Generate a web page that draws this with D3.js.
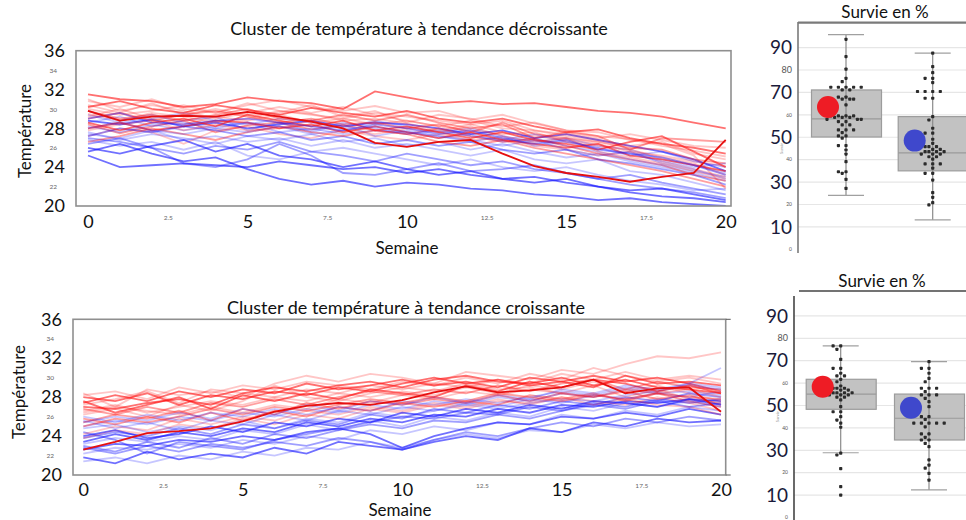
<!DOCTYPE html>
<html><head><meta charset="utf-8">
<script src="https://cdn.jsdelivr.net/npm/d3@7"></script>
<style>
body{margin:0;background:#fff}
svg{display:block}
text{font-family:Lato,"Open Sans",sans-serif}
</style>
</head><body>
<svg width="966" height="520"></svg>
<script>
// weeks on the x axis
var weeks = [0,1,2,3,4,5,6,7,8,9,10,11,12,13,14,15,16,17,18,19,20];

// cluster with decreasing trend: red and blue profiles
var topRed = [
  [31.5,31.0,30.8,30.2,30.5,31.2,30.8,30.6,30.0,31.8,31.2,30.6,30.8,30.5,30.6,30.2,29.8,29.6,29.2,28.6,28.0],
  [30.8,30.2,31.0,30.0,29.6,30.4,30.9,30.2,29.8,30.3,29.6,29.8,28.9,29.4,28.5,27.8,27.2,26.9,26.2,25.7,25.1],
  [29.5,28.8,29.6,29.2,28.6,29.0,29.8,29.5,28.8,29.0,28.5,27.8,28.4,27.6,27.2,26.8,26.4,25.6,25.2,24.6,24.1],
  [28.4,27.5,28.2,28.8,27.6,28.3,28.6,27.9,28.3,27.8,27.4,28.0,27.2,26.6,26.9,26.2,25.4,24.8,24.2,23.2,22.6],
  [30.2,30.8,30.0,29.6,30.4,29.9,29.4,30.1,29.6,29.2,29.8,29.0,28.6,29.0,28.2,27.6,27.9,27.0,26.4,26.0,25.4],
  [27.2,28.0,27.6,26.4,27.8,28.2,27.4,27.0,27.8,27.2,26.8,27.4,26.8,27.0,26.2,25.8,25.2,25.6,24.6,23.8,23.0],
  [29.0,29.6,28.8,29.4,29.8,29.2,28.6,29.0,28.4,28.6,28.0,28.4,27.6,28.6,27.4,27.0,26.6,26.0,25.8,24.8,24.4],
  [31.0,29.8,30.4,29.8,29.0,29.6,30.2,29.6,30.2,29.4,28.8,28.2,28.8,28.0,27.8,27.2,26.8,26.2,26.6,25.4,24.8],
  [28.0,28.6,27.8,28.2,28.8,28.6,28.0,28.4,27.6,28.2,27.6,27.0,27.6,26.8,26.4,26.0,26.4,25.2,24.8,24.2,23.6],
  [26.6,27.2,28.0,27.4,26.8,27.6,28.2,27.6,27.2,27.8,27.4,26.6,26.2,26.8,26.0,25.4,24.8,24.2,23.6,22.8,22.0],
  [30.0,29.4,29.8,30.4,29.6,30.6,29.8,29.4,29.0,29.6,29.2,28.8,28.4,28.8,27.8,27.4,27.0,27.4,26.8,26.2,26.0],
  [29.2,30.0,29.0,28.4,29.2,28.8,29.4,28.6,29.0,28.4,28.8,28.2,27.8,27.4,27.6,26.6,26.2,25.8,25.0,24.4,23.2],
  [28.6,27.8,28.6,29.0,28.2,29.4,28.8,28.2,28.8,27.8,28.2,27.6,27.0,27.6,26.8,26.4,25.8,26.6,27.2,25.6,24.0],
  [30.4,29.6,30.6,29.4,30.0,29.4,29.6,30.4,29.2,29.8,28.6,29.4,29.0,28.2,28.6,27.8,27.6,26.8,26.4,25.2,21.8],
  [27.8,28.4,28.8,27.8,28.4,27.8,28.0,28.8,28.0,27.4,28.0,27.6,28.2,27.2,26.6,27.0,25.6,25.0,24.4,23.6,22.8],
  [29.8,29.0,29.4,28.8,29.4,30.0,29.0,28.8,29.4,28.8,29.4,28.6,28.0,28.4,27.0,27.6,27.2,25.8,27.0,26.8,26.6]
];
var topBlue = [
  [28.8,28.4,28.9,28.2,28.6,28.0,28.4,28.8,28.2,28.6,28.4,28.0,27.4,27.8,27.0,27.4,26.8,26.2,25.6,24.8,23.6],
  [27.6,26.8,27.4,27.0,26.4,27.2,26.8,27.4,26.6,27.0,26.2,26.6,25.8,26.4,25.6,25.0,25.4,24.6,24.0,23.4,22.6],
  [29.4,28.6,29.0,29.6,28.8,28.4,29.0,28.6,28.0,28.8,28.2,27.6,28.0,27.2,26.6,27.0,26.2,25.8,24.8,24.2,23.4],
  [26.4,27.0,26.0,25.4,26.2,25.8,26.6,25.6,25.2,24.6,25.4,24.8,24.2,24.6,23.8,23.4,22.8,23.2,22.4,21.8,21.2],
  [25.2,24.0,24.2,24.4,24.2,24.0,24.6,24.2,23.8,24.0,23.4,23.8,23.2,22.8,23.0,22.4,22.0,21.6,21.8,21.2,20.6],
  [28.2,27.6,28.4,27.8,28.2,28.6,27.6,28.0,27.4,27.8,27.6,27.0,27.4,26.6,27.0,26.2,25.6,24.8,24.2,23.6,23.0],
  [27.0,26.6,26.0,24.4,24.0,24.8,26.4,25.2,23.4,23.2,23.8,24.4,23.6,23.8,24.2,23.4,22.8,22.2,21.8,21.4,20.8],
  [28.6,29.2,28.2,28.8,29.2,27.8,28.6,27.6,28.4,27.2,27.8,27.2,26.6,27.2,26.2,26.6,26.0,25.2,25.6,24.6,24.0],
  [26.0,25.4,26.2,26.8,25.6,26.4,25.2,24.8,24.0,24.6,23.8,23.2,23.6,22.8,22.4,22.8,22.0,21.4,21.0,20.8,20.4],
  [27.2,28.0,27.6,28.2,27.8,27.2,27.6,26.8,27.2,26.4,26.8,26.2,26.6,25.8,25.4,25.8,24.8,24.4,23.8,23.2,22.2],
  [29.8,28.8,29.4,28.6,28.0,28.6,28.2,27.8,28.6,28.0,27.4,27.8,27.2,26.8,27.4,26.6,26.0,25.4,24.6,24.0,24.4],
  [26.8,26.2,26.6,25.8,26.6,25.2,24.8,25.6,26.0,25.4,24.8,24.2,24.8,24.0,23.6,24.0,23.2,22.6,22.2,21.6,21.8],
  [25.6,26.4,25.4,24.6,25.0,23.8,22.8,22.2,22.6,22.0,22.4,22.2,21.8,21.6,21.2,21.0,20.6,20.8,20.4,20.2,20.0],
  [28.0,28.6,27.8,27.4,28.0,27.6,28.2,27.4,27.8,28.2,27.6,27.2,26.8,26.2,26.8,25.8,25.2,25.6,24.4,23.8,22.8],
  [27.4,27.0,27.8,26.8,27.2,26.6,27.0,26.2,26.8,26.0,26.4,25.8,25.2,25.8,24.8,24.4,24.8,23.6,23.2,22.4,21.6],
  [29.0,29.6,28.6,28.4,28.8,29.0,28.6,28.2,27.8,28.4,28.0,27.4,27.8,27.0,26.4,26.8,25.8,25.4,25.0,24.2,23.2]
];
var topHighlight = [29.8,28.8,29.2,29.3,29.2,29.7,29.2,28.7,28.0,26.5,26.1,26.6,26.8,25.4,24.1,23.4,23.0,22.5,23.0,23.4,26.8];

// cluster with increasing trend
var botRed = [
  [27.0,26.8,27.4,27.8,27.2,28.4,29.0,28.6,29.2,29.6,29.0,29.8,30.2,29.6,29.4,30.0,29.2,29.8,29.0,28.8,28.4],
  [26.6,27.2,26.4,27.0,27.6,27.2,28.0,27.6,28.4,28.0,28.6,28.2,29.0,28.4,29.2,28.8,29.6,28.6,29.2,28.4,27.6],
  [28.4,27.0,28.8,28.2,28.6,28.0,29.4,30.2,29.6,30.4,30.0,29.4,30.6,30.2,29.8,30.8,30.4,31.4,32.2,32.0,32.6],
  [25.4,26.2,25.8,26.6,25.6,26.8,26.2,27.4,26.8,27.6,27.2,27.8,27.4,28.2,27.6,28.4,28.0,28.6,27.8,28.2,27.2],
  [27.4,28.2,27.6,28.6,28.0,28.8,28.4,29.4,28.8,29.2,29.8,29.2,29.6,29.0,30.0,29.6,29.0,30.2,29.4,29.6,29.2],
  [24.2,25.0,24.6,25.8,25.2,26.0,25.6,26.6,26.2,27.0,26.6,27.4,27.0,27.8,27.2,28.0,27.6,27.2,28.0,27.4,26.6],
  [26.8,26.2,27.0,26.4,27.4,27.0,27.8,27.2,28.0,28.6,28.2,28.8,28.4,29.2,28.6,29.4,29.8,28.8,29.6,29.0,28.8],
  [26.2,26.8,26.0,27.2,26.6,27.6,29.2,28.0,27.6,28.4,29.0,28.6,29.4,28.8,29.0,28.4,29.2,28.0,28.8,27.8,27.4],
  [28.0,27.6,28.4,27.2,28.2,27.8,28.6,28.2,29.0,28.6,29.4,30.0,29.4,29.8,29.2,29.6,30.2,29.6,30.0,29.4,28.6],
  [25.8,25.2,26.0,25.4,26.4,25.6,26.6,26.0,27.0,26.6,27.4,27.0,27.6,27.2,28.2,27.8,28.4,27.6,28.4,27.6,27.0],
  [27.2,27.8,28.6,27.4,28.8,28.4,28.0,28.8,28.4,29.2,28.8,29.4,29.0,29.8,29.4,30.4,29.8,30.6,29.8,30.2,29.8],
  [23.8,24.6,24.2,25.2,24.8,25.8,25.2,26.2,25.8,26.8,26.4,27.2,26.8,27.6,27.4,28.0,27.2,27.8,27.2,27.0,26.2],
  [27.6,26.4,27.2,28.0,26.8,28.2,27.6,28.4,27.8,28.8,28.4,28.0,29.2,28.6,29.6,29.0,29.8,29.4,28.6,29.2,28.4],
  [26.4,27.0,26.6,26.2,27.0,26.4,27.2,26.8,27.8,27.4,28.2,27.8,28.6,28.2,28.8,28.4,28.0,28.8,28.4,28.8,28.0],
  [28.2,28.6,27.8,29.0,28.4,29.2,28.8,29.6,29.2,28.8,29.6,29.2,30.0,29.4,30.4,29.8,31.0,30.2,29.6,30.0,29.4],
  [25.0,25.8,25.4,26.0,26.8,26.2,27.0,26.6,27.2,27.8,27.4,28.0,27.6,28.4,28.0,27.6,28.2,27.8,28.4,28.0,27.8]
];
var botBlue = [
  [23.4,24.2,23.6,24.4,24.0,24.8,24.4,25.4,25.0,25.8,25.4,26.2,26.0,26.8,26.4,27.2,27.0,27.6,27.4,27.8,27.6],
  [25.6,24.8,25.4,24.6,25.6,25.2,26.2,25.6,26.6,26.2,27.0,26.6,27.4,27.0,27.8,27.4,28.2,27.8,28.4,28.0,28.6],
  [21.4,21.8,21.2,22.0,21.6,22.4,22.0,22.8,22.6,23.4,22.8,23.6,24.2,23.8,24.6,24.4,25.2,24.8,25.4,25.0,25.2],
  [24.4,23.6,22.2,23.4,23.0,22.6,23.6,24.2,24.8,25.4,26.0,25.8,26.4,26.2,27.0,26.6,27.4,27.0,27.8,27.4,27.8],
  [22.6,23.2,23.0,23.6,23.4,24.0,23.6,24.4,24.8,24.2,22.8,24.0,24.8,25.4,25.2,26.0,25.8,26.4,26.0,26.8,26.2],
  [25.0,25.6,25.2,26.0,25.6,26.4,26.0,26.8,26.4,27.2,26.8,27.6,27.2,28.0,27.6,28.4,28.0,28.8,28.4,28.6,28.2],
  [23.0,22.4,23.4,22.8,23.8,23.2,24.2,23.8,24.6,25.2,24.8,25.6,25.4,26.2,25.8,26.6,27.2,26.8,27.6,27.0,27.4],
  [24.8,25.2,24.4,25.0,24.6,25.6,24.8,25.8,25.4,26.4,26.0,26.6,27.2,26.8,27.4,27.8,27.6,28.2,28.6,29.4,31.0],
  [21.8,21.2,22.4,21.6,22.2,21.8,22.8,22.2,23.4,23.0,22.6,23.4,24.0,23.6,24.8,24.4,25.4,25.0,25.8,25.4,25.6],
  [23.8,24.4,24.0,24.8,24.2,25.2,24.8,25.6,25.2,26.2,25.8,26.8,26.4,27.2,26.8,27.6,27.2,28.0,27.6,28.4,28.0],
  [26.0,25.4,26.2,25.6,26.4,26.0,26.8,26.2,27.0,26.6,27.6,27.2,27.8,27.4,28.0,28.6,28.2,29.0,28.6,29.2,28.8],
  [22.2,22.8,22.6,23.2,22.8,23.6,23.2,24.0,23.6,24.6,24.2,25.0,24.6,25.4,25.2,26.2,25.8,26.6,26.2,27.0,26.6],
  [24.0,24.6,23.8,24.2,25.0,24.4,25.4,25.0,25.8,25.4,26.4,26.0,26.8,26.4,27.2,26.8,27.6,27.4,27.0,27.8,27.2],
  [23.2,23.8,23.4,24.0,23.6,24.6,24.2,25.2,24.6,25.6,25.0,26.0,25.6,26.4,26.0,27.0,26.6,27.4,27.0,27.6,27.0],
  [25.4,26.0,25.6,26.4,25.8,26.8,26.2,27.2,26.6,27.6,27.2,28.0,27.4,28.2,27.8,28.8,28.4,29.2,28.8,29.4,29.0],
  [22.8,22.2,23.0,22.4,23.2,22.8,23.4,23.0,23.8,23.4,22.6,23.6,24.4,24.0,24.8,25.4,25.0,25.8,25.4,26.0,25.6]
];
var botHighlight = [22.6,23.4,24.3,24.5,24.8,25.5,26.5,27.1,27.4,27.2,27.7,28.5,29.1,28.5,28.7,29.0,29.8,28.4,28.9,29.0,26.5];

var tempTicks = [20,22,24,26,28,30,32,34,36];
var weekTicks = [0,2.5,5,7.5,10,12.5,15,17.5,20];

// survival (%) : box statistics [red group, blue group]
var groups = ["rouge","bleu"];
var survTopQ1 = [50.1, 35.0], survTopMed = [58.2, 43.0], survTopQ3 = [71.1, 59.2];
var survTopLo = [24.1, 13.1], survTopHi = [95.8, 87.5], survTopMean = [63.5, 48.5];
var survBotQ1 = [48.3, 34.6], survBotMed = [55.1, 44.3], survBotQ3 = [61.7, 55.1];
var survBotLo = [28.9, 12.3], survBotHi = [76.6, 69.6], survBotMean = [58.4, 49.0];

var survTopRed = [93.7,86.0,80.4,76.3,74.8,72.3,72.3,72.3,72.3,72.3,71.1,71.1,67.9,67.9,67.0,67.0,67.0,64.4,
  59.5,59.5,59.5,59.5,58.9,58.9,58.9,58.0,58.0,58.0,57.0,57.0,55.5,55.5,53.3,53.3,53.3,52.1,50.6,50.6,49.6,
  46.3,46.3,44.3,42.5,39.1,34.6,34.6,33.9,31.2,27.2];
var survTopBlue = [87.5,81.5,78.8,76.3,76.3,74.4,70.4,70.4,70.4,70.4,67.4,67.4,59.2,57.7,54.0,51.8,51.8,49.1,
  47.3,45.8,45.8,45.8,44.6,44.6,43.6,43.6,43.6,43.6,42.5,42.5,42.5,41.3,41.3,40.2,38.1,38.1,38.1,36.2,
  33.9,33.9,30.9,25.3,23.2,20.8,19.8];
var survBotRed = [76.6,76.6,75.1,70.6,66.6,66.6,64.4,63.2,63.2,61.7,60.6,58.7,57.7,57.7,57.7,56.9,56.9,
  55.7,55.7,55.7,55.7,54.7,54.7,54.7,54.7,53.7,53.7,52.5,49.5,47.2,47.2,45.0,43.5,42.1,40.3,28.7,27.9,
  21.8,13.8,10.0];
var survBotBlue = [69.6,66.6,66.6,64.4,62.1,60.6,57.7,57.7,57.7,56.2,54.7,54.7,54.7,53.2,51.7,49.5,45.0,
  45.0,43.8,42.1,42.1,42.1,42.1,42.1,40.5,37.3,37.3,35.8,34.6,34.6,33.1,31.6,25.7,23.4,22.0,19.7,16.7];
var survBigTicks = [10,30,50,70,90];
var survSmallTicks = [0,20,40,60,80];
var survGrid = [10,20,30,40,50,60,70,80,90];

var svg = d3.select("svg");

function linePanel(o) {
  var x = d3.scaleLinear().domain([0,20]).range([o.x0, o.x1]);
  var y = d3.scaleLinear().domain([20,36]).range([o.yb, o.yt]);
  var g = svg.append("g");
  var cid = "clip" + o.id;
  svg.append("clipPath").attr("id", cid).append("rect")
    .attr("x", o.fl).attr("y", o.yt).attr("width", o.fr - o.fl).attr("height", o.yb - o.yt);

  var line = d3.line().x(function(d, i) { return x(weeks[i]); }).y(function(d) { return y(d); });
  var lg = g.append("g").attr("clip-path", "url(#" + cid + ")");
  // interleave red and blue profiles
  for (var i = 0; i < o.red.length; i++) {
    [[o.blue[i], "#1010ff"], [o.red[i], "#ff1010"]].forEach(function(p) {
      lg.append("path").attr("d", line(p[0])).attr("fill", "none")
        .attr("stroke", p[1]).attr("stroke-width", 1.8)
        .attr("stroke-opacity", i % 4 === 0 ? 0.6 : (i % 3 === 0 ? 0.4 : 0.24));
    });
  }
  lg.append("path").attr("d", line(o.hi)).attr("fill", "none")
    .attr("stroke", "#e61010").attr("stroke-width", 1.8);

  // frame
  g.append("rect").attr("x", o.fl).attr("y", o.yt).attr("width", o.fr - o.fl).attr("height", o.yb - o.yt)
    .attr("fill", "none").attr("stroke", "#8f8f8f").attr("stroke-width", 1.6);

  // y axis
  var ya = g.append("g").attr("transform", "translate(" + o.ylab + ",0)")
    .call(d3.axisLeft(y).tickValues(tempTicks).tickSize(0).tickPadding(0));
  ya.select(".domain").remove();
  ya.selectAll("text")
    .style("font-family", "Lato, sans-serif")
    .style("font-size", function(d) { return d % 4 === 0 ? "18px" : "6.5px"; })
    .attr("fill", function(d) { return d % 4 === 0 ? "#111" : "#666"; })
    .attr("x", function(d) { return d % 4 === 0 ? 0 : -8; });

  // x axis
  var xa = g.append("g").attr("transform", "translate(0," + o.xlab + ")")
    .call(d3.axisBottom(x).tickValues(weekTicks).tickSize(0).tickPadding(0)
      .tickFormat(function(d) { return String(d); }));
  xa.select(".domain").remove();
  xa.selectAll("text")
    .style("font-family", "Lato, sans-serif")
    .style("font-size", function(d) { return d % 5 === 0 ? "18px" : "6.5px"; })
    .attr("fill", function(d) { return d % 5 === 0 ? "#111" : "#666"; })
    .attr("dy", function(d) { return d % 5 === 0 ? "0.32em" : "-0.3em"; })
    .attr("y", 0);

  g.append("text").attr("x", o.tx).attr("y", o.ty).attr("text-anchor", "middle")
    .attr("dy", "0.35em").style("font-size", "18px").attr("fill", "#111").text(o.title);
  g.append("text").attr("x", o.sx).attr("y", o.sy).attr("text-anchor", "middle")
    .attr("dy", "0.35em").style("font-size", "17px").attr("fill", "#111").text("Semaine");
  g.append("text").attr("transform", "translate(" + o.lx + "," + o.ly + ") rotate(-90)")
    .attr("text-anchor", "middle").attr("dy", "0.35em").style("font-size", "17px")
    .attr("fill", "#111").text("Température");
  if (o.rightTicks) {
    [o.yt, o.yb].forEach(function(yy) {
      g.append("line").attr("x1", o.fr).attr("x2", o.fr + 5).attr("y1", yy).attr("y2", yy)
        .attr("stroke", "#555").attr("stroke-width", 1);
    });
  }
}

linePanel({id: "a", x0: 88, x1: 725.7, yt: 50.7, yb: 206, fl: 76, fr: 731,
  red: topRed, blue: topBlue, hi: topHighlight, ylab: 65, xlab: 222,
  title: "Cluster de température à tendance décroissante", tx: 419, ty: 29,
  sx: 407, sy: 248, lx: 25, ly: 131});
linePanel({id: "b", x0: 83.3, x1: 721, yt: 319.3, yb: 475, fl: 73, fr: 725.7,
  red: botRed, blue: botBlue, hi: botHighlight, ylab: 62, xlab: 490, rightTicks: true,
  title: "Cluster de température à tendance croissante", tx: 406, ty: 307.7,
  sx: 400, sy: 510, lx: 19, ly: 392});

function swarm(vals, y, cx) {
  var placed = [], d = 3.8;
  vals.slice().sort(function(a, b) { return b - a; }).forEach(function(v) {
    var py = y(v);
    for (var k = 0; k < 30; k++) {
      var off = (k % 2 ? -1 : 1) * Math.ceil(k / 2) * d;
      var ok = placed.every(function(p) { return Math.hypot(p[0] - (cx + off), p[1] - py) >= d; });
      if (ok) { placed.push([cx + off, py]); break; }
    }
  });
  return placed;
}

function boxPanel(o) {
  var y = d3.scaleLinear().domain([0, 80]).range([o.y0, o.y80]);
  var cx = d3.scalePoint().domain(groups).range(o.centers);
  var g = svg.append("g");

  g.selectAll(".grid").data(survGrid).enter().append("line")
    .attr("x1", o.axisX).attr("x2", 966).attr("y1", function(d) { return y(d); })
    .attr("y2", function(d) { return y(d); }).attr("stroke", "#e6e6e6").attr("stroke-width", 1.2);

  var bw = 70, cw = 36;
  groups.forEach(function(gr, i) {
    var c = cx(gr);
    g.append("rect").attr("x", c - bw / 2 + 0.5).attr("y", y(o.q3[i]))
      .attr("width", bw).attr("height", y(o.q1[i]) - y(o.q3[i]))
      .attr("fill", "#c2c2c2").attr("stroke", "#9c9c9c").attr("stroke-width", 1.2);
    g.append("line").attr("x1", c).attr("x2", c).attr("y1", y(o.hi[i])).attr("y2", y(o.lo[i]))
      .attr("stroke", "#8a8a8a").attr("stroke-width", 1.2);
    [o.hi[i], o.lo[i]].forEach(function(v) {
      g.append("line").attr("x1", c - cw / 2).attr("x2", c + cw / 2).attr("y1", y(v)).attr("y2", y(v))
        .attr("stroke", "#a0a0a0").attr("stroke-width", 1.2);
    });
    g.append("line").attr("x1", c - bw / 2 + 0.5).attr("x2", c + bw / 2 + 0.5)
      .attr("y1", y(o.med[i])).attr("y2", y(o.med[i])).attr("stroke", "#9a9a9a").attr("stroke-width", 1.2);
    g.selectAll(".pt" + i).data(swarm(o.pts[i], y, c)).enter().append("rect")
      .attr("x", function(d) { return d[0] - 1.6; }).attr("y", function(d) { return d[1] - 1.6; })
      .attr("width", 3.2).attr("height", 3.2).attr("rx", 0.8).attr("fill", "#2b2b2b");
    g.append("circle").attr("cx", c - 18).attr("cy", y(o.mean[i])).attr("r", 11)
      .attr("fill", i === 0 ? "#ee1c25" : "#3f48cc");
  });

  // axis labels
  g.selectAll(".big").data(survBigTicks).enter().append("text")
    .attr("x", o.axisX - 6).attr("y", function(d) { return y(d); }).attr("dy", "0.35em")
    .attr("text-anchor", "end").style("font-size", "19px").attr("fill", "#1a1a3a")
    .text(function(d) { return d; });
  g.selectAll(".small").data(survSmallTicks).enter().append("text")
    .attr("x", o.axisX - 6).attr("y", function(d) { return y(d); }).attr("dy", "0.35em")
    .attr("text-anchor", "end").style("font-size", function(d) { return d === 80 ? "9px" : "5px"; })
    .attr("fill", "#555").text(function(d) { return d; });
  g.append("text").attr("transform", "translate(" + (o.axisX - 15) + "," + y(45) + ") rotate(-90)")
    .attr("text-anchor", "middle").style("font-size", "4px").attr("fill", "#999").text("Survie");

  g.append("line").attr("x1", o.axisX).attr("x2", o.axisX).attr("y1", o.axisTop).attr("y2", o.axisBot)
    .attr("stroke", o.axisColor).attr("stroke-width", 1.6);
  g.append("line").attr("x1", o.lineX).attr("x2", 966).attr("y1", o.lineY).attr("y2", o.lineY)
    .attr("stroke", o.axisColor).attr("stroke-width", o.lineW);
  g.append("text").attr("x", o.tx).attr("y", o.ty).attr("dy", "0.35em").attr("text-anchor", "middle")
    .style("font-size", "17px").attr("fill", "#111").text("Survie en %");
}

boxPanel({y0: 249.3, y80: 70, centers: [846, 932.7], axisX: 798, axisTop: 22, axisBot: 253,
  lineX: 798, lineY: 22.7, lineW: 2.2, axisColor: "#7a7a7a", tx: 885, ty: 12,
  q1: survTopQ1, med: survTopMed, q3: survTopQ3, lo: survTopLo, hi: survTopHi, mean: survTopMean,
  pts: [survTopRed, survTopBlue]});
boxPanel({y0: 517.5, y80: 338.3, centers: [840.7, 929], axisX: 794, axisTop: 296, axisBot: 520,
  lineX: 799, lineY: 291, lineW: 1.6, axisColor: "#444", tx: 882, ty: 280.7,
  q1: survBotQ1, med: survBotMed, q3: survBotQ3, lo: survBotLo, hi: survBotHi, mean: survBotMean,
  pts: [survBotRed, survBotBlue]});
</script>
</body></html>
